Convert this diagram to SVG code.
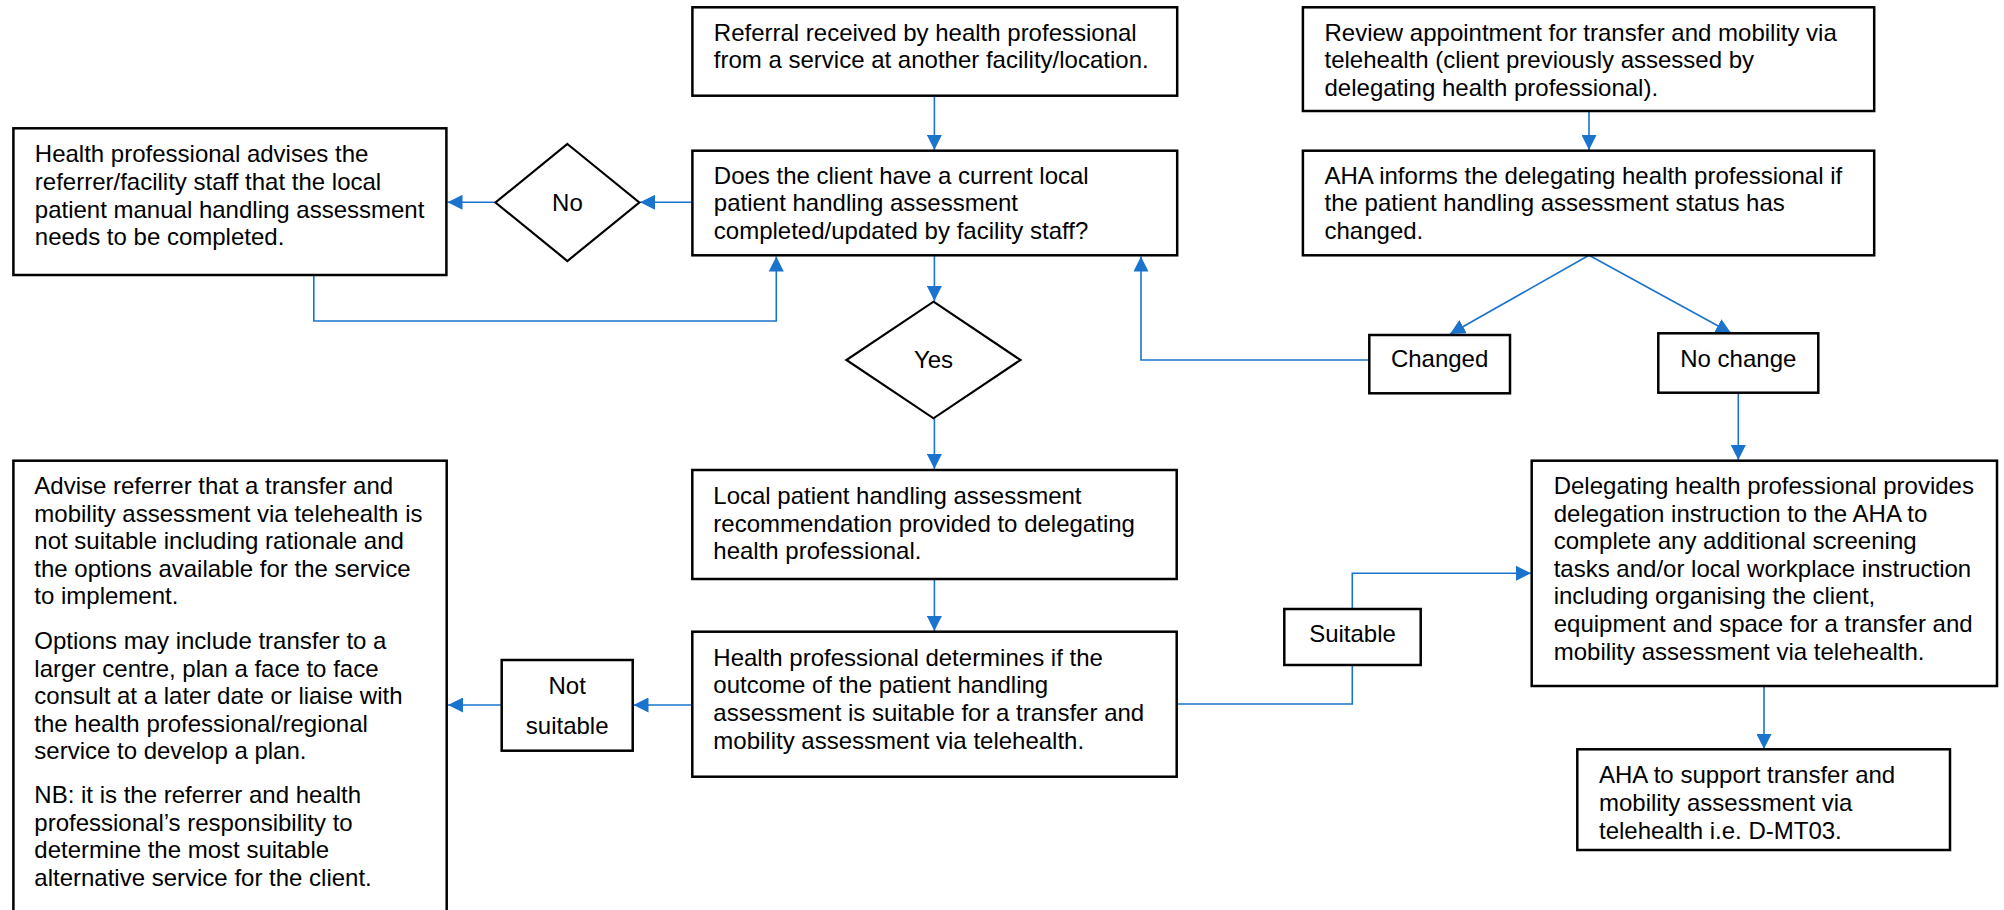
<svg xmlns="http://www.w3.org/2000/svg" width="2004" height="910" viewBox="0 0 2004 910">
<style>
.box{fill:#fff;stroke:#000;stroke-width:2.5}
.dia{fill:#fff;stroke:#000;stroke-width:2.2}
.t{font-family:"Liberation Sans",Arial,sans-serif;font-size:24px;fill:#000}
.c{text-anchor:middle}
.ln{fill:none;stroke:#1a73cc;stroke-width:1.6}
</style>
<defs>
<marker id="ah" viewBox="0 0 15 15" refX="15" refY="7.5" markerWidth="15" markerHeight="15" orient="auto" markerUnits="userSpaceOnUse">
<path d="M0,0 L15,7.5 L0,15 z" fill="#1a73cc"/>
</marker>
</defs>
<rect width="2004" height="910" fill="#fff"/>

<g id="connectors">
<path class="ln" d="M934.4,95.7 V150" marker-end="url(#ah)"/>
<path class="ln" d="M692.4,202.3 H640" marker-end="url(#ah)"/>
<path class="ln" d="M495.5,202.3 H447.5" marker-end="url(#ah)"/>
<path class="ln" d="M313.8,275 V321 H776.3 V256.5" marker-end="url(#ah)"/>
<path class="ln" d="M934.4,255.3 V301" marker-end="url(#ah)"/>
<path class="ln" d="M934.4,418.3 V469" marker-end="url(#ah)"/>
<path class="ln" d="M934.4,579 V631" marker-end="url(#ah)"/>
<path class="ln" d="M692.3,705 H633.5" marker-end="url(#ah)"/>
<path class="ln" d="M501.7,705 H448" marker-end="url(#ah)"/>
<path class="ln" d="M1176.7,704 H1352.3 V665"/>
<path class="ln" d="M1352.3,609 V573.3 H1531" marker-end="url(#ah)"/>
<path class="ln" d="M1589,111 V150" marker-end="url(#ah)"/>
<path class="ln" d="M1589,255.3 L1450,334" marker-end="url(#ah)"/>
<path class="ln" d="M1589,255.3 L1731,333" marker-end="url(#ah)"/>
<path class="ln" d="M1369.3,360 H1141 V256.5" marker-end="url(#ah)"/>
<path class="ln" d="M1738.3,392.7 V460" marker-end="url(#ah)"/>
<path class="ln" d="M1764,686 V749" marker-end="url(#ah)"/>
</g>

<g id="referral">
<rect class="box" x="692.4" y="7.3" width="484.8" height="88.4"/>
<text class="t" x="713.8" y="40.7">Referral received by health professional<tspan x="713.8" y="68.3">from a service at another facility/location.</tspan></text>
</g>

<g id="question">
<rect class="box" x="692.4" y="150.7" width="484.8" height="104.6"/>
<text class="t" x="713.8" y="183.5">Does the client have a current local<tspan x="713.8" y="211.1">patient handling assessment</tspan><tspan x="713.8" y="238.7">completed/updated by facility staff?</tspan></text>
</g>

<g id="no-diamond">
<polygon class="dia" points="567.4,144 639.3,202.5 567.4,261 495.5,202.5"/>
<text class="t c" x="567.4" y="210.5">No</text>
</g>

<g id="advise-local">
<rect class="box" x="13.4" y="128.3" width="433" height="146.7"/>
<text class="t" x="34.8" y="162.3">Health professional advises the<tspan x="34.8" y="189.9">referrer/facility staff that the local</tspan><tspan x="34.8" y="217.5">patient manual handling assessment</tspan><tspan x="34.8" y="245.1">needs to be completed.</tspan></text>
</g>

<g id="yes-diamond">
<polygon class="dia" points="933.5,301.7 1020.5,360 933.5,418.3 846.4,360"/>
<text class="t c" x="933.5" y="368">Yes</text>
</g>

<g id="local-recommendation">
<rect class="box" x="692.3" y="470" width="484.4" height="109"/>
<text class="t" x="713.3" y="504">Local patient handling assessment<tspan x="713.3" y="531.6">recommendation provided to delegating</tspan><tspan x="713.3" y="559.2">health professional.</tspan></text>
</g>

<g id="determines">
<rect class="box" x="692.3" y="631.7" width="484.4" height="145"/>
<text class="t" x="713.3" y="665.7">Health professional determines if the<tspan x="713.3" y="693.3">outcome of the patient handling</tspan><tspan x="713.3" y="720.9">assessment is suitable for a transfer and</tspan><tspan x="713.3" y="748.5">mobility assessment via telehealth.</tspan></text>
</g>

<g id="not-suitable">
<rect class="box" x="501.7" y="660" width="131" height="90.7"/>
<text class="t c" x="567.2" y="694">Not</text>
<text class="t c" x="567.2" y="734.3">suitable</text>
</g>

<g id="advise-referrer">
<rect class="box" x="13.4" y="460.7" width="433.3" height="460"/>
<text class="t" x="34.3" y="494">Advise referrer that a transfer and<tspan x="34.3" y="521.6">mobility assessment via telehealth is</tspan><tspan x="34.3" y="549.2">not suitable including rationale and</tspan><tspan x="34.3" y="576.8">the options available for the service</tspan><tspan x="34.3" y="604.4">to implement.</tspan><tspan x="34.3" y="649">Options may include transfer to a</tspan><tspan x="34.3" y="676.6">larger centre, plan a face to face</tspan><tspan x="34.3" y="704.2">consult at a later date or liaise with</tspan><tspan x="34.3" y="731.8">the health professional/regional</tspan><tspan x="34.3" y="759.4">service to develop a plan.</tspan><tspan x="34.3" y="803">NB: it is the referrer and health</tspan><tspan x="34.3" y="830.6">professional’s responsibility to</tspan><tspan x="34.3" y="858.2">determine the most suitable</tspan><tspan x="34.3" y="885.8">alternative service for the client.</tspan></text>
</g>

<g id="review">
<rect class="box" x="1302.9" y="7.3" width="571.3" height="103.7"/>
<text class="t" x="1324.5" y="40.7">Review appointment for transfer and mobility via<tspan x="1324.5" y="68.3">telehealth (client previously assessed by</tspan><tspan x="1324.5" y="95.9">delegating health professional).</tspan></text>
</g>

<g id="aha-informs">
<rect class="box" x="1302.9" y="150.7" width="571.3" height="104.6"/>
<text class="t" x="1324.5" y="183.5">AHA informs the delegating health professional if<tspan x="1324.5" y="211.1">the patient handling assessment status has</tspan><tspan x="1324.5" y="238.7">changed.</tspan></text>
</g>

<g id="changed">
<rect class="box" x="1369.3" y="335" width="140.7" height="58.3"/>
<text class="t c" x="1439.6" y="367.3">Changed</text>
</g>

<g id="no-change">
<rect class="box" x="1658.3" y="333.3" width="160" height="59.4"/>
<text class="t c" x="1738.3" y="366.5">No change</text>
</g>

<g id="suitable">
<rect class="box" x="1284.3" y="609" width="136.4" height="56"/>
<text class="t c" x="1352.5" y="641.7">Suitable</text>
</g>

<g id="delegating">
<rect class="box" x="1531.7" y="460.7" width="465.3" height="225.3"/>
<text class="t" x="1553.7" y="494">Delegating health professional provides<tspan x="1553.7" y="521.6">delegation instruction to the AHA to</tspan><tspan x="1553.7" y="549.2">complete any additional screening</tspan><tspan x="1553.7" y="576.8">tasks and/or local workplace instruction</tspan><tspan x="1553.7" y="604.4">including organising the client,</tspan><tspan x="1553.7" y="632">equipment and space for a transfer and</tspan><tspan x="1553.7" y="659.6">mobility assessment via telehealth.</tspan></text>
</g>

<g id="aha-support">
<rect class="box" x="1577.3" y="749.3" width="372.7" height="100.7"/>
<text class="t" x="1599" y="783.3">AHA to support transfer and<tspan x="1599" y="810.9">mobility assessment via</tspan><tspan x="1599" y="838.5">telehealth i.e. D-MT03.</tspan></text>
</g>
</svg>
